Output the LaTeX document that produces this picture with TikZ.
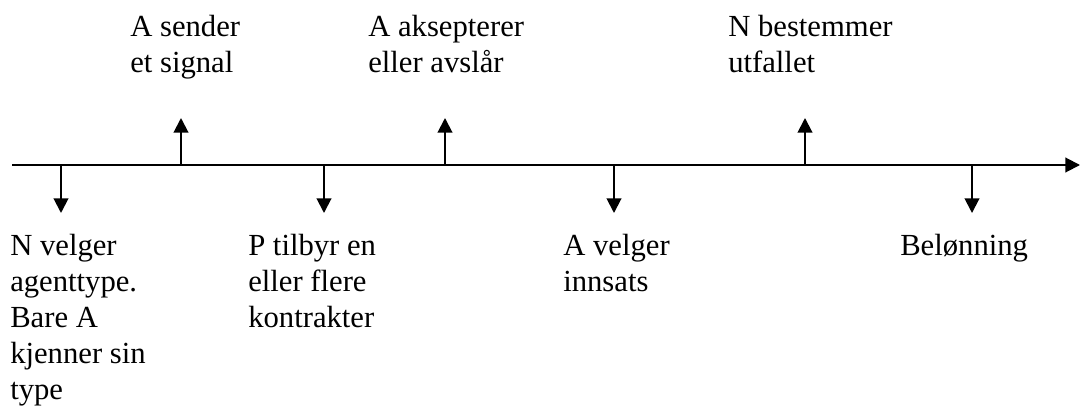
\documentclass[tikz,border=0pt]{standalone}
\usepackage{fontspec}
\setmainfont{Liberation Serif}
\usetikzlibrary{arrows.meta}
\begin{document}
\begin{tikzpicture}[x=0.75pt,y=-0.75pt,
  line/.style={line width=1.5pt,-{Triangle[length=11pt,width=11pt]}},
  lbl/.style={anchor=base west,inner sep=0pt,align=left,font=\fontsize{23}{27}\selectfont}]
\useasboundingbox (0,0) rectangle (1080,406);
\coordinate (s) at (12,165);
\coordinate (e) at (1080,165);
\draw[line] (s) -- (e);
\foreach \n/\x in {d1/61,d2/324,d3/614,d4/972}{
  \coordinate (\n a) at (\x,165);
  \coordinate (\n b) at (\x,213);
  \draw[line] (\n a) -- (\n b);
}
\foreach \n/\x in {u1/181,u2/445,u3/805}{
  \coordinate (\n a) at (\x,165);
  \coordinate (\n b) at (\x,118);
  \draw[line] (\n a) -- (\n b);
}
\node[lbl] (t1) at (130,73) {A sender\\et signal};
\node[lbl] (t2) at (368,73) {A aksepterer\\eller avslår};
\node[lbl] (t3) at (728,73) {N bestemmer\\utfallet};
\node[lbl] (b1) at (10,399) {N velger\\agenttype.\\Bare A\\kjenner sin\\type};
\node[lbl] (b2) at (248,327) {P tilbyr en\\eller flere\\kontrakter};
\node[lbl] (b3) at (563,291) {A velger\\innsats};
\node[lbl] (b4) at (900,255) {Belønning};
\end{tikzpicture}
\end{document}
